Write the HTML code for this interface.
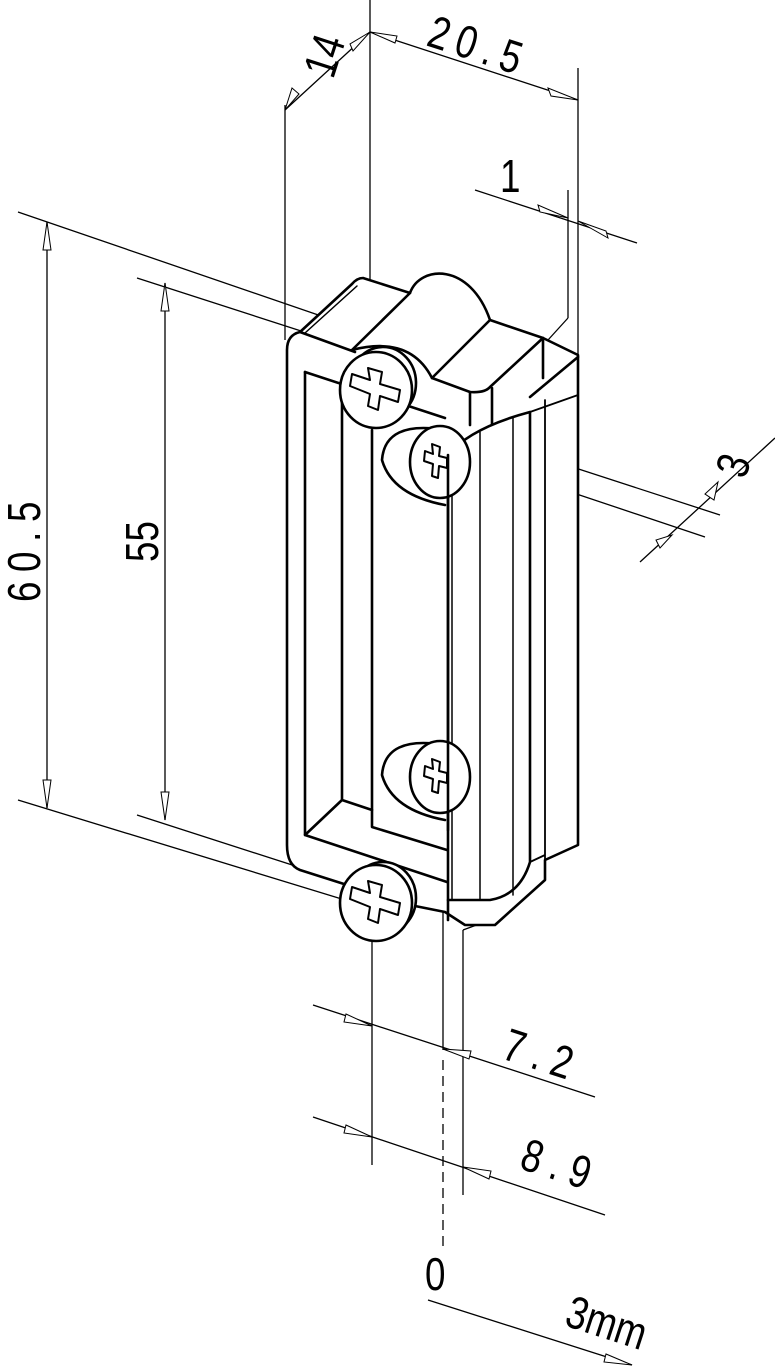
<!DOCTYPE html>
<html><head><meta charset="utf-8"><style>
html,body{margin:0;padding:0;background:#fff;}
svg{display:block;}
text{font-family:"Liberation Sans",sans-serif;fill:#000;}
</style></head><body>
<svg width="775" height="1367" viewBox="0 0 775 1367" xmlns="http://www.w3.org/2000/svg">
<g stroke="#000" stroke-width="1.3" fill="none">
<line x1="370" y1="0" x2="370" y2="280"/>
<line x1="285" y1="105" x2="285" y2="340"/>
<line x1="578" y1="68" x2="578" y2="355"/>
<line x1="568" y1="190" x2="568" y2="318"/>
<line x1="285" y1="110" x2="370" y2="32"/>
<line x1="370" y1="32" x2="578" y2="100"/>
<line x1="475" y1="190" x2="637" y2="243"/>
<polyline points="568,318 548,340"/>
<line x1="18" y1="212" x2="362" y2="330"/>
<line x1="18" y1="800" x2="345" y2="900"/>
<line x1="47" y1="222" x2="47" y2="808"/>
<line x1="137" y1="278" x2="360" y2="350"/>
<line x1="137" y1="815" x2="345" y2="882"/>
<line x1="165" y1="283" x2="165" y2="820"/>
<line x1="480" y1="437" x2="720" y2="515"/>
<line x1="460" y1="455" x2="705" y2="537"/>
<line x1="640" y1="562" x2="775" y2="438"/>
<line x1="313" y1="1005" x2="595" y2="1097"/>
<line x1="313" y1="1117" x2="605" y2="1215"/>
<line x1="428" y1="1300" x2="632" y2="1365"/>
<line x1="372" y1="890" x2="372" y2="1165"/>
<line x1="443" y1="900" x2="443" y2="1050"/>
<line x1="443" y1="1060" x2="443" y2="1250" stroke-dasharray="10,6"/>
<line x1="463" y1="930" x2="463" y2="1195"/>
<polyline points="463,930 490,920"/>
</g>
<g fill="#fff" stroke="#000" stroke-width="1">
<polygon points="47,222 43,250 51,250"/>
<polygon points="47,808 43,780 51,780"/>
<polygon points="165,283 161,311 169,311"/>
<polygon points="165,820 161,792 169,792"/>
<polygon points="370,32 350,44 353,51"/>
<polygon points="285,110 292,88 299,94"/>
<polygon points="370,32 397,36 395,43"/>
<polygon points="578,100 551,96 548,88"/>
<polygon points="568,218 540,212 538,205"/>
<polygon points="578,221 606,231 608,238"/>
<polygon points="705,494 718,482 714,500"/>
<polygon points="672,535 660,548 656,540"/>
<polygon points="372,1026 344,1022 346,1014"/>
<polygon points="443,1049 471,1051 469,1059"/>
<polygon points="372,1137 344,1133 346,1125"/>
<polygon points="463,1167 491,1171 489,1179"/>
<polygon points="632,1365 604,1362 606,1354"/>
</g>
<g font-size="46" font-weight="normal">
<text transform="translate(333,80) rotate(-72) scale(0.8,1)">14</text>
<text letter-spacing="10" transform="translate(425,45) rotate(18) scale(0.8,1)">20.5</text>
<text transform="translate(500,192) scale(0.8,1)">1</text>
<text transform="translate(745,480) rotate(-72) scale(0.8,1)">3</text>
<text letter-spacing="12" transform="translate(40,602) rotate(-90) scale(0.8,1)">60.5</text>
<text transform="translate(158,562) rotate(-90) scale(0.8,1)">55</text>
<text letter-spacing="12" transform="translate(500,1058) rotate(18) scale(0.8,1)">7.2</text>
<text letter-spacing="12" transform="translate(518,1168) rotate(18) scale(0.8,1)">8.9</text>
<text transform="translate(425,1290) scale(0.8,1)">0</text>
<text transform="translate(563,1325) rotate(18) scale(0.8,1)">3mm</text>
</g>
<!-- body -->
<g stroke="#000" stroke-width="2.6" fill="#fff" stroke-linejoin="round" stroke-linecap="round">
<path d="M287,350 Q287,335 300,332 L352,284 Q357,278 363,278 L410,293 C420,265 470,262 490,320 L543,338 L578,355 L578,845 L545,860 L545,880 L495,925 L465,925 L445,912 L410,905 L300,870 Q287,865 287,845 Z"/>
<path d="M300,332 L355,352" fill="none"/>
<path d="M305,333 L357,286" fill="none" stroke-width="1.5"/>
<path d="M410,293 L352,350" fill="none"/>
<path d="M490,320 L432,378 L470,392 Q485,393 490,387 L543,338" fill="none"/>
<path d="M543,338 L543,378 M578,357 L530,397" fill="none"/>
<path d="M470,392 L470,425 M492,388 L492,425" fill="none"/>
<path d="M352,350 Q410,335 432,378" fill="none"/>
<!-- opening -->
<path d="M305,372 L305,835 L447,882" fill="none"/>
<path d="M305,372 L445,418" fill="none"/>
<path d="M342,384 L342,800 L372,810" fill="none"/>
<path d="M305,835 L342,800" fill="none"/>
<path d="M372,430 L372,827 L447,850" fill="none"/>
<!-- right strip -->
<path d="M448,455 Q470,428 530,412 L530,862 Q520,895 490,900 L448,900 Z"/>
<path d="M452,450 L452,900 M480,432 L480,900 M513,418 L513,895" fill="none" stroke-width="1.5"/>
<path d="M530,412 L578,395 M545,400 L545,860 M530,862 L545,855" fill="none" stroke-width="1.8"/>
<path d="M448,900 L448,920" fill="none"/>
<!-- cams -->
<path d="M445,430 Q385,420 382,460 Q392,495 445,505" fill="#fff"/>
<path d="M445,745 Q385,735 382,775 Q392,810 445,820" fill="#fff"/>
<ellipse cx="440" cy="462" rx="30" ry="36"/>
<ellipse cx="440" cy="777" rx="30" ry="36"/>
<path d="M448,455 L448,830" fill="none"/>
<!-- front screws -->
<ellipse cx="383" cy="383" rx="33" ry="36"/>
<ellipse cx="376" cy="390" rx="36" ry="38"/>
<ellipse cx="383" cy="898" rx="33" ry="36"/>
<ellipse cx="376" cy="903" rx="36" ry="38"/>
</g>
<g stroke="#000" stroke-width="2" fill="#fff" stroke-linejoin="round">
<path d="M368,368 L382,372 L380,384 L400,390 L398,402 L380,396 L378,410 L368,406 L370,394 L350,386 L352,374 L370,380 Z"/>
<path d="M368,881 L382,885 L380,897 L400,903 L398,915 L380,909 L378,923 L368,919 L370,907 L350,899 L352,887 L370,893 Z"/>
<path d="M432,444 L440,447 L439,456 L447,458 L447,468 L439,466 L438,478 L432,476 L433,464 L424,461 L425,451 L433,454 Z"/>
<path d="M432,759 L440,762 L439,771 L447,773 L447,783 L439,781 L438,793 L432,791 L433,779 L424,776 L425,766 L433,769 Z"/>
</g>
</svg>
</body></html>
